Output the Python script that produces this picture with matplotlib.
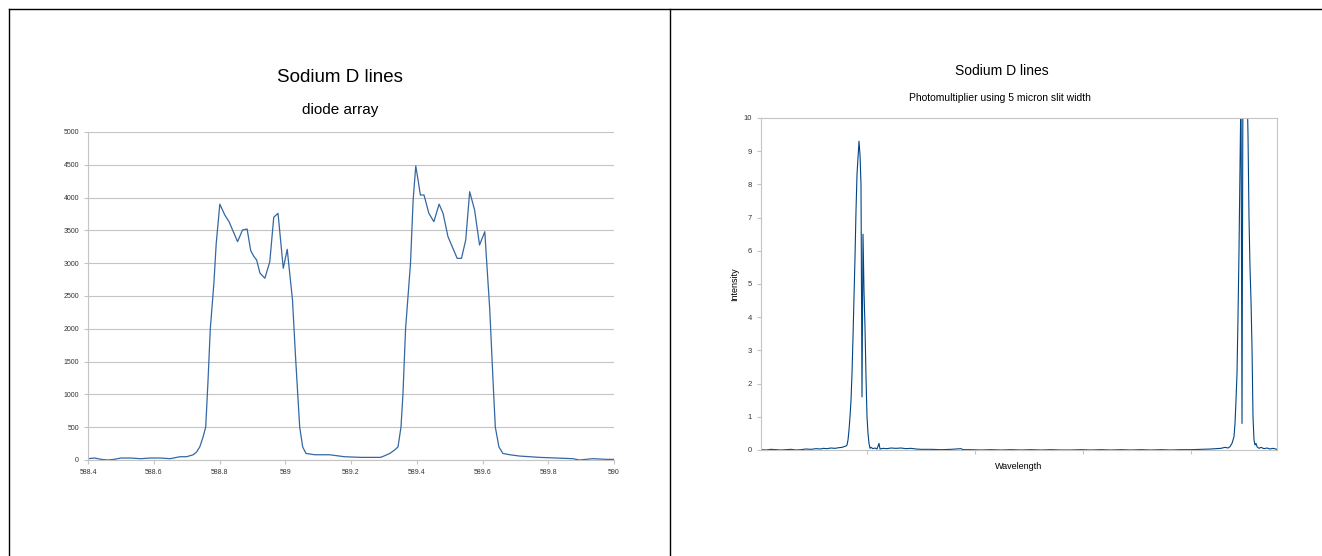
import matplotlib
matplotlib.use('Agg')
import matplotlib.pyplot as plt
from matplotlib.lines import Line2D

plt.rcParams['font.family'] = ['Liberation Sans', 'DejaVu Sans']

# diode array spectrum (wavelength nm, counts)
diode_wl = [588.40, 588.42, 588.44, 588.46, 588.48, 588.50, 588.53, 588.56, 588.59,
            588.62, 588.65, 588.68, 588.70, 588.72, 588.73, 588.74, 588.75, 588.758,
            588.765, 588.772, 588.783, 588.79, 588.801, 588.816, 588.829, 588.842,
            588.855, 588.870, 588.884, 588.895, 588.905, 588.913, 588.923, 588.938,
            588.953, 588.965, 588.978, 588.994, 589.006, 589.022, 589.031, 589.038,
            589.044, 589.053, 589.063, 589.09, 589.135, 589.18, 589.23, 589.27,
            589.29, 589.30, 589.318, 589.332, 589.343, 589.352, 589.358, 589.366,
            589.381, 589.389, 589.397, 589.404, 589.411, 589.422, 589.437, 589.452,
            589.468, 589.480, 589.495, 589.510, 589.523, 589.536, 589.549, 589.561,
            589.576, 589.591, 589.607, 589.614, 589.622, 589.634, 589.639, 589.650,
            589.662, 589.683, 589.713, 589.774, 589.825, 589.875, 589.895, 589.935,
            589.977, 590.0]
diode_counts = [20, 30, 10, 0, 10, 30, 30, 20, 30,
                30, 20, 50, 50, 80, 120, 200, 350, 500,
                1200, 2000, 2700, 3300, 3900, 3735, 3633, 3480,
                3328, 3506, 3521, 3191, 3100, 3049, 2850, 2770,
                3023, 3700, 3760, 2922, 3212, 2440, 1600, 1000,
                500, 200, 100, 80, 80, 50, 40, 40,
                40, 60, 100, 150, 200, 500, 1000, 2000,
                3000, 3963, 4482, 4268, 4040, 4040, 3760, 3633,
                3900, 3760, 3405, 3227, 3074, 3074, 3354, 4090,
                3811, 3277, 3480, 2922, 2300, 1000, 500, 200,
                100, 80, 60, 40, 30, 20, 0, 20,
                10, 10]

# photomultiplier scan (sample index, intensity)
pm_idx = [0, 5, 10, 15, 20, 25, 30, 35, 40, 45, 50, 55, 60,
          62, 66, 70, 74, 78, 81, 83, 85,
          86, 87, 88, 89, 90, 91, 92, 93, 94, 95, 96, 97, 98, 99, 100,
          101, 102, 103, 104, 105, 106, 107, 108, 109,
          110, 112, 114, 116, 118, 119, 122, 126, 130, 135, 140, 145, 150,
          155, 160, 170, 180, 190, 200, 202, 210, 220, 230, 240, 250, 260,
          270, 280, 290, 300, 310, 320, 330, 340, 350, 360, 370, 380, 390,
          400, 410, 420, 430, 440, 450, 455, 460, 464, 467,
          469, 471, 473, 474, 475, 476, 477, 478, 479, 480, 481, 482, 483,
          484, 485, 486, 487, 488, 489, 490, 491, 492, 493, 494, 495, 496,
          498, 500, 503, 506, 509, 512, 516]
pm_int = [0.01, 0.0, 0.02, 0.01, 0.0, 0.01, 0.02, 0.0, 0.01, 0.03, 0.02, 0.04, 0.03,
          0.05, 0.04, 0.06, 0.05, 0.07, 0.08, 0.1, 0.12,
          0.15, 0.3, 0.6, 1.0, 1.5, 2.3, 3.4, 4.6, 5.8, 7.2, 8.3, 8.8, 9.3, 8.9, 8.0,
          1.6, 6.5, 4.8, 3.7, 2.2, 1.0, 0.5, 0.2, 0.05,
          0.08, 0.04, 0.06, 0.03, 0.2, 0.03, 0.05, 0.04, 0.06, 0.05, 0.06, 0.04, 0.05,
          0.03, 0.02, 0.02, 0.01, 0.02, 0.04, 0.01, 0.01, 0.0, 0.01, 0.0, 0.01, 0.0,
          0.01, 0.0, 0.01, 0.0, 0.0, 0.01, 0.0, 0.01, 0.0, 0.01, 0.0, 0.01, 0.0,
          0.01, 0.0, 0.01, 0.01, 0.02, 0.03, 0.04, 0.05, 0.08, 0.06,
          0.1, 0.2, 0.4, 0.8, 1.5, 2.3, 4.0, 6.0, 8.5, 11, 0.8, 12, 13,
          13, 12, 11, 9.5, 7.0, 5.5, 4.5, 3.1, 1.0, 0.3, 0.15, 0.2, 0.1,
          0.05, 0.08, 0.04, 0.06, 0.03, 0.05, 0.02]
pm_ticks = [106, 214, 322, 430]

W, H = 1322, 556
fig = plt.figure(figsize=(W / 100, H / 100), dpi=100)


def rect(l, t, r, b):
    return [l / W, 1 - b / H, (r - l) / W, (b - t) / H]


# panel frame lines
for x0, y0, x1, y1 in [(9, 9, W, 9), (9, 9, 9, H), (670, 9, 670, H)]:
    fig.add_artist(Line2D([x0 / W, x1 / W], [1 - y0 / H, 1 - y1 / H],
                          color='black', lw=1, transform=fig.transFigure))

grey = '#c4c4c4'
blue = '#004586'

# left chart
ax = fig.add_axes(rect(88, 132, 614, 460))
ax.plot(diode_wl, diode_counts, color='#3567a3', lw=0.9)
ax.set_xlim(588.4, 590)
ax.set_ylim(0, 5000)
ax.set_xticks([588.4, 588.6, 588.8, 589, 589.2, 589.4, 589.6, 589.8, 590])
ax.set_xticklabels(['588.4', '588.6', '588.8', '589', '589.2', '589.4',
                    '589.6', '589.8', '590'])
ax.set_yticks(range(0, 5001, 500))
ax.yaxis.grid(True, color=grey, lw=0.8)
ax.set_axisbelow(True)
for s in ['top', 'right']:
    ax.spines[s].set_visible(False)
for s in ['left', 'bottom']:
    ax.spines[s].set_color(grey)
ax.tick_params(labelsize=5, colors=grey, labelcolor='#333333', length=3, width=0.8)
fig.text(340 / W, 1 - 78 / H, 'Sodium D lines', ha='center', va='center', fontsize=13.5)
fig.text(340 / W, 1 - 110 / H, 'diode array', ha='center', va='center', fontsize=11)

# right chart
ax2 = fig.add_axes(rect(761, 118, 1277, 450))
ax2.plot(pm_idx, pm_int, color=blue, lw=0.8)
ax2.set_xlim(0, 516)
ax2.set_ylim(0, 10)
ax2.set_yticks(range(0, 11))
ax2.set_xticks(pm_ticks)
ax2.set_xticklabels([])
for s in ax2.spines.values():
    s.set_color(grey)
ax2.tick_params(labelsize=5.5, colors=grey, labelcolor='#333333', length=3, width=0.8)
ax2.set_ylabel('Intensity', fontsize=6.5, labelpad=3)
ax2.set_xlabel('Wavelength', fontsize=6.5, labelpad=2)
fig.text(1002 / W, 1 - 71 / H, 'Sodium D lines', ha='center', va='center', fontsize=10)
fig.text(1000 / W, 1 - 98 / H, 'Photomultiplier using 5 micron slit width',
         ha='center', va='center', fontsize=7.5)

fig.savefig('out.png', dpi=100)
